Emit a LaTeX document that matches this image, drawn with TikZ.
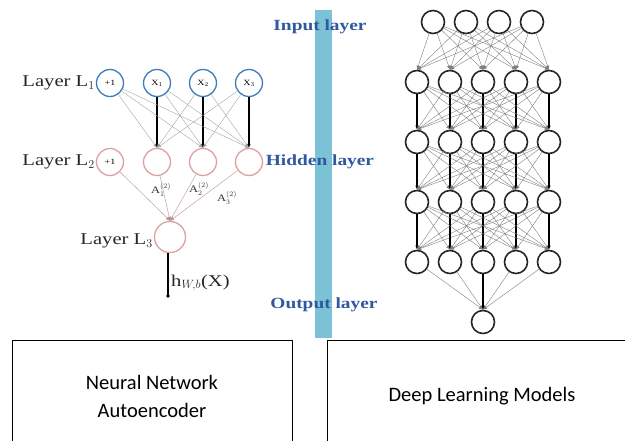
\documentclass[tikz,border=0pt]{standalone}
\usepackage{fontspec}
\setmainfont{Liberation Serif}
\newfontfamily\boxfont{Carlito}
\newfontfamily\wideserif{Liberation Serif}[FakeStretch=1.25]
\usetikzlibrary{arrows.meta,positioning}
\definecolor{inBlue}{RGB}{62,124,186}
\definecolor{hidPink}{RGB}{222,160,160}
\definecolor{labBlue}{RGB}{47,88,158}
\definecolor{barTeal}{RGB}{124,194,214}
\definecolor{wireGray}{RGB}{165,165,165}

\begin{document}
\begin{tikzpicture}[x=1pt,y=-1pt,
        unit/.style={circle,draw,line width=1.3pt,minimum size=27pt,inner sep=0pt,font=\wideserif\fontsize{8}{8}\selectfont},
        inunit/.style={unit,draw=inBlue},
        hidunit/.style={unit,draw=hidPink},
        deep/.style={circle,draw=black!85,line width=1.6pt,minimum size=23pt,inner sep=0pt},
        wire/.style={-{Latex[length=4pt,width=3.5pt]},draw=wireGray,line width=0.4pt},
        strong/.style={-{Latex[length=4pt,width=3.5pt]},line width=1.3pt},
        laylab/.style={font=\wideserif\fontsize{16.5}{16.5}\selectfont,text=black!85,inner sep=1pt},
        sidelab/.style={font=\wideserif\bfseries\fontsize{15.5}{15.5}\selectfont,text=labBlue},
        alab/.style={font=\wideserif\fontsize{10}{10}\selectfont,text=black!80,anchor=west,inner sep=0pt},
        caption/.style={draw,line width=0.6pt,align=center,font=\boxfont\fontsize{20.5}{28}\selectfont}
      ]
        \useasboundingbox (0,0) rectangle (625,441);
        % autoencoder
        \node[inunit] (i0) at (110,83) {+1};
        \foreach \k/\x in {1/157,2/203,3/249}
          \node[inunit] (i\k) at (\x,83) {X$_\k$};
        \node[hidunit] (h0) at (110,162) {+1};
        \foreach \k/\x in {1/157,2/203,3/249}
          \node[hidunit] (h\k) at (\x,162) {};
        \node[hidunit,minimum size=31pt] (o) at (170,237) {};
        \node[laylab,left=0pt of i0] {Layer L$_1$};
        \node[laylab,left=0pt of h0] {Layer L$_2$};
        \node[laylab,left=0pt of o,yshift=-4pt] {Layer L$_3$};
        \foreach \j in {1,2,3}
          \foreach \i in {0,...,3} {
            \ifnum\i=\j \draw[strong] (i\i) -- (h\j.north);
            \else \draw[wire] (i\i) -- (h\j.north); \fi
          }
        \foreach \i in {0,...,3}
          \draw[wire,draw=hidPink!60!gray] (h\i) -- (o.north);
        \node[alab] (a1) at (151,190) {A$_1^{(2)}$};
        \node[alab] (a2) at (189,189) {A$_2^{(2)}$};
        \node[alab] (a3) at (217,198) {A$_3^{(2)}$};
        \coordinate (hend) at (168,296);
        \draw[line width=1.3pt] (o.south -| hend) -- (hend);
        \fill (hend) circle (1.8pt);
        \node[laylab,anchor=west] (hx) at (170,283) {h$_{W,b}$(X)};
        % divider
        \fill[barTeal] (315,10) rectangle (332,338);
        \node[sidelab] (inlab) at (320,27) {Input layer};
        \node[sidelab] (hidlab) at (320,162) {Hidden layer};
        \node[sidelab] (outlab) at (324,305) {Output layer};
        % deep model
        \foreach \k/\x in {1/433,2/466,3/499,4/532}
          \node[deep] (t\k) at (\x,22) {};
        \foreach \r in {1,...,4}
          \foreach \c in {1,...,5}
            \node[deep] (d\r-\c) at ({384+33*\c},{22+60*\r}) {};
        \node[deep] (dout) at (483,322) {};
        \foreach \c in {1,...,5}
          \foreach \k in {1,...,4}
            \draw[wire,draw=gray] (t\k) -- (d1-\c.north);
        \foreach \r/\n in {1/2,2/3,3/4}
          \foreach \c in {1,...,5}
            \foreach \k in {1,...,5} {
              \ifnum\k=\c \draw[strong] (d\r-\k) -- (d\n-\c.north);
              \else \draw[wire,draw=gray] (d\r-\k) -- (d\n-\c.north); \fi
            }
        \foreach \k in {1,2,4,5}
          \draw[wire,draw=gray] (d4-\k) -- (dout.north);
        \draw[strong] (d4-3) -- (dout);
        % captions
        \node[caption,minimum width=280pt,minimum height=112pt] (cap1) at (152,396) {Neural Network\\Autoencoder};
        \node[caption,minimum width=310pt,minimum height=112pt] (cap2) at (482,396) {Deep Learning Models};
      \end{tikzpicture}
\end{document}
